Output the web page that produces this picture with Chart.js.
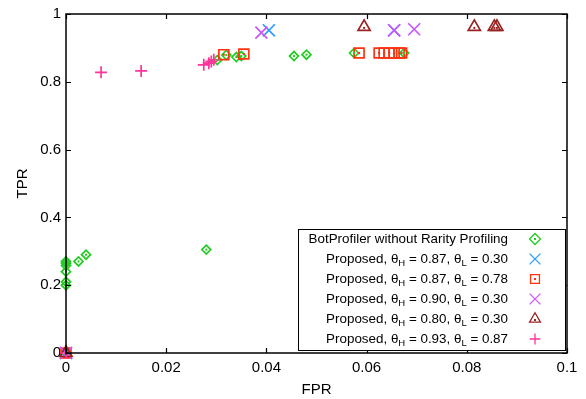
<!DOCTYPE html>
<html>
<head>
<meta charset="utf-8">
<script src="https://cdn.jsdelivr.net/npm/chart.js@4"></script>
<style>
  html, body { margin: 0; padding: 0; background: #fff; }
  #wrap { width: 586px; height: 399px; }
</style>
</head>
<body>
<div id="wrap"><canvas id="rocChart" width="586" height="399"></canvas></div>
<script>
const FONT = "'Liberation Sans', Arial, sans-serif";

// x ticks / y ticks
const xTicks = [0, 0.02, 0.04, 0.06, 0.08, 0.1];
const yTicks = [0, 0.2, 0.4, 0.6, 0.8, 1];

// BotProfiler without Rarity Profiling
const bpFpr = [0, 0, 0, 0, 0, 0, 0.0025, 0.004, 0.028, 0.0302, 0.032, 0.034, 0.035, 0.0455, 0.048, 0.0575, 0.0675, 0];
const bpTpr = [0.2, 0.21, 0.24, 0.258, 0.265, 0.27, 0.27, 0.29, 0.305, 0.864, 0.879, 0.873, 0.876, 0.876, 0.88, 0.885, 0.885, 0];

// Proposed, thH = 0.87, thL = 0.30
const p1Fpr = [0, 0.0405, 0.0655];
const p1Tpr = [0, 0.952, 0.952];

// Proposed, thH = 0.87, thL = 0.78
const p2Fpr = [0, 0.0315, 0.0355, 0.0585, 0.0625, 0.0635, 0.0645, 0.0655, 0.0665, 0.067];
const p2Tpr = [0, 0.88, 0.882, 0.885, 0.885, 0.885, 0.885, 0.885, 0.885, 0.885];

// Proposed, thH = 0.90, thL = 0.30
const p3Fpr = [0, 0.039, 0.0655, 0.0695];
const p3Tpr = [0, 0.945, 0.952, 0.955];

// Proposed, thH = 0.80, thL = 0.30
const p4Fpr = [0, 0.0595, 0.0815, 0.0855, 0.086];
const p4Tpr = [0, 0.962, 0.962, 0.962, 0.962];

// Proposed, thH = 0.93, thL = 0.87
const p5Fpr = [0, 0.007, 0.015, 0.0275, 0.0285, 0.029, 0.0295];
const p5Tpr = [0, 0.828, 0.832, 0.85, 0.855, 0.86, 0.865];

const toPts = (xs, ys) => xs.map((x, i) => ({ x: x, y: ys[i] }));

const series = [
  { label: ["BotProfiler without Rarity Profiling"], data: toPts(bpFpr, bpTpr), color: "#22cc22", style: "rectRot", r: 4.5, dot: true },
  { label: ["Proposed, \u03b8", "H", " = 0.87, \u03b8", "L", " = 0.30"], data: toPts(p1Fpr, p1Tpr), color: "#2a9bff", style: "crossRot", r: 8.5 },
  { label: ["Proposed, \u03b8", "H", " = 0.87, \u03b8", "L", " = 0.78"], data: toPts(p2Fpr, p2Tpr), color: "#ff3311", style: "rect", r: 7, dot: true },
  { label: ["Proposed, \u03b8", "H", " = 0.90, \u03b8", "L", " = 0.30"], data: toPts(p3Fpr, p3Tpr), color: "#cc55ff", style: "crossRot", r: 8.5 },
  { label: ["Proposed, \u03b8", "H", " = 0.80, \u03b8", "L", " = 0.30"], data: toPts(p4Fpr, p4Tpr), color: "#992222", style: "triangle", r: 7, dot: true },
  { label: ["Proposed, \u03b8", "H", " = 0.93, \u03b8", "L", " = 0.87"], data: toPts(p5Fpr, p5Tpr), color: "#ff3399", style: "cross", r: 6 },
];

// box, inward ticks, marker dots and the right-aligned legend
const matlabStyle = {
  id: "matlabStyle",
  afterDatasetsDraw(chart) {
    const c = chart.ctx;
    const a = chart.chartArea;
    const xs = chart.scales.x, ys = chart.scales.y;
    c.save();
    // center dots
    series.forEach((s) => {
      if (!s.dot) return;
      c.fillStyle = s.color;
      s.data.forEach((p) => {
        const px = xs.getPixelForValue(p.x), py = ys.getPixelForValue(p.y);
        c.fillRect(px - 1, py - 1 + (s.style === "triangle" ? 1 : 0), 2, 2);
      });
    });
    c.strokeStyle = "#000";
    c.lineWidth = 1.2;
    c.beginPath();
    xTicks.forEach((t) => {
      const px = Math.round(xs.getPixelForValue(t)) + 0.5;
      c.moveTo(px, a.bottom); c.lineTo(px, a.bottom - 5);
      c.moveTo(px, a.top); c.lineTo(px, a.top + 5);
    });
    yTicks.forEach((t) => {
      const py = Math.round(ys.getPixelForValue(t)) + 0.5;
      c.moveTo(a.left, py); c.lineTo(a.left + 5, py);
      c.moveTo(a.right, py); c.lineTo(a.right - 5, py);
    });
    c.stroke();
    c.lineWidth = 1.5;
    c.strokeRect(a.left, a.top, a.right - a.left, a.bottom - a.top);

    // legend
    const lx = 298, ly = 229, lw = 267, lh = 121;
    c.fillStyle = "#fff";
    c.fillRect(lx, ly, lw, lh);
    c.lineWidth = 1;
    c.strokeStyle = "#000";
    c.strokeRect(lx + 0.5, ly + 0.5, lw, lh);
    const textRight = 508, markX = 535;
    const main = "13.4px " + FONT, sub = "9.5px " + FONT;
    series.forEach((s, i) => {
      const y = 239 + i * 20;
      let w = 0;
      s.label.forEach((part, k) => {
        c.font = k % 2 ? sub : main;
        w += c.measureText(part).width;
      });
      let x = textRight - w;
      c.fillStyle = "#000";
      c.textBaseline = "middle";
      s.label.forEach((part, k) => {
        c.font = k % 2 ? sub : main;
        c.fillText(part, x, k % 2 ? y + 4 : y);
        x += c.measureText(part).width;
      });
      c.strokeStyle = s.color;
      c.fillStyle = "rgba(0,0,0,0)";
      c.lineWidth = 1.3;
      Chart.helpers.drawPoint(c, { pointStyle: s.style, radius: s.style === "rectRot" ? 5.5 : s.r * 0.9, borderWidth: 1.3 }, markX, y);
      c.fillStyle = s.color;
      if (s.dot) c.fillRect(markX - 1, y - 1 + (s.style === "triangle" ? 1 : 0), 2, 2);
    });
    c.restore();
  },
};

const ctx = document.getElementById("rocChart").getContext("2d");
const chart = new Chart(ctx, {
  type: "scatter",
  data: {
    datasets: series.map((s, i) => ({
      label: s.label.join(""),
      data: s.data,
      pointStyle: s.style,
      pointRadius: s.r,
      pointHoverRadius: s.r,
      borderColor: s.color,
      backgroundColor: "rgba(0,0,0,0)",
      borderWidth: 1.7,
      clip: false,
      order: series.length - i,
    })),
  },
  options: {
    responsive: false,
    animation: false,
    layout: { padding: { left: 0, right: 19, top: 14, bottom: 0 } },
    scales: {
      x: {
        type: "linear",
        min: 0,
        max: 0.1,
        afterBuildTicks: (scale) => { scale.ticks = xTicks.map((v) => ({ value: v })); },
        afterFit: (scale) => { scale.height = 46; },
        grid: { display: false, drawTicks: false, tickLength: 0 },
        border: { display: false },
        ticks: {
          padding: 6,
          color: "#000",
          font: { family: FONT, size: 15 },
          maxRotation: 0,
          callback: (v) => String(+v.toFixed(2)),
        },
        title: {
          display: true,
          text: "FPR",
          color: "#000",
          font: { family: FONT, size: 15 },
          padding: { top: 0, bottom: 0 },
        },
      },
      y: {
        type: "linear",
        min: 0,
        max: 1,
        afterBuildTicks: (scale) => { scale.ticks = yTicks.map((v) => ({ value: v })); },
        afterFit: (scale) => { scale.width = 66; },
        grid: { display: false, drawTicks: false, tickLength: 0 },
        border: { display: false },
        ticks: {
          padding: 5,
          color: "#000",
          font: { family: FONT, size: 15 },
          callback: (v) => String(+v.toFixed(1)),
        },
        title: {
          display: true,
          text: "TPR",
          color: "#000",
          font: { family: FONT, size: 15 },
          padding: { top: 14, bottom: 0 },
        },
      },
    },
    plugins: {
      legend: { display: false },
      tooltip: { enabled: false },
    },
  },
  plugins: [matlabStyle],
});
</script>
</body>
</html>
